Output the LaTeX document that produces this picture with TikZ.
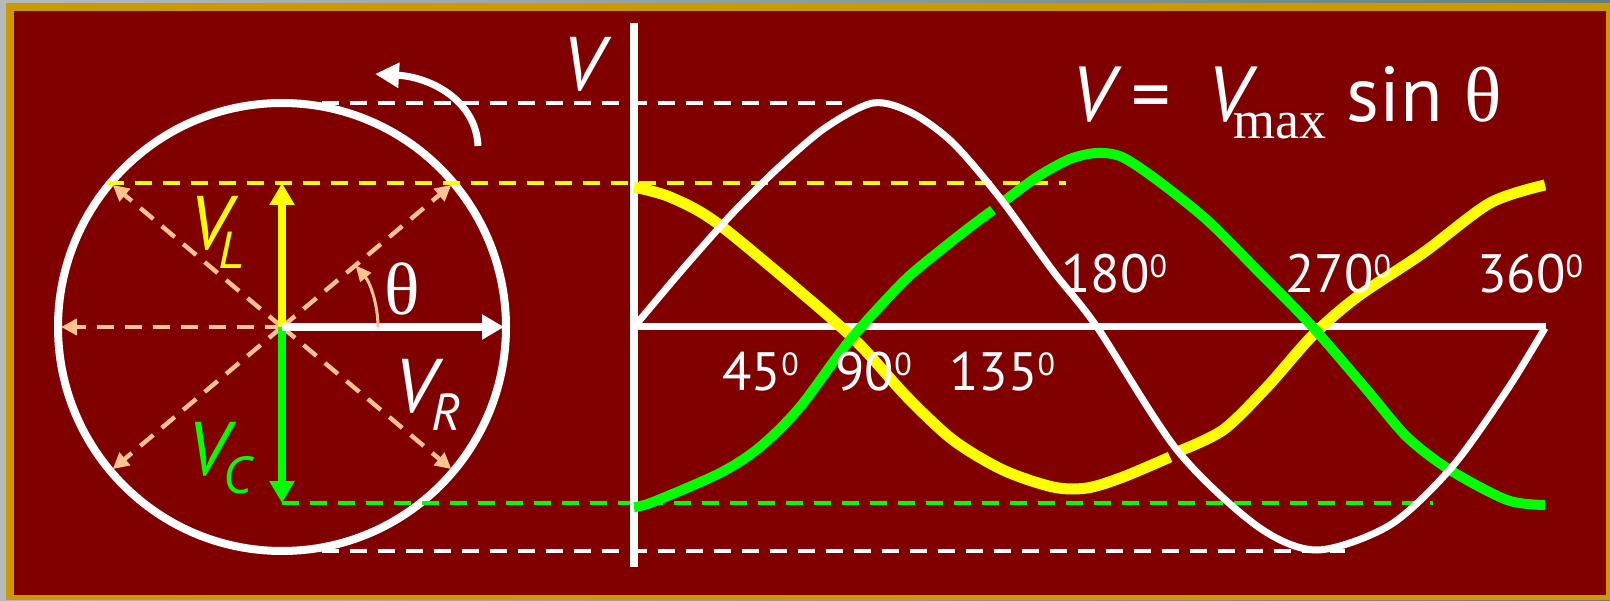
\documentclass[tikz,border=0pt]{standalone}
\usepackage{fontspec}
\setmainfont{PT Sans}
\newfontfamily\serifgr{Liberation Serif}
\usepackage{tikz}
\usetikzlibrary{arrows.meta,calc}
\definecolor{granate}{HTML}{800000}
\definecolor{oro}{HTML}{CC9900}
\definecolor{gris}{HTML}{62807E}
\definecolor{grisclaro}{HTML}{B4BABA}
\definecolor{salmon}{HTML}{FFC38F}
\definecolor{amarillo}{HTML}{FFFF00}
\definecolor{verde}{HTML}{00FF00}
\newcommand\grado[1]{#1\raisebox{7.5pt}{\fontsize{16}{16}\selectfont 0}}
\newcommand\subi[1]{\raisebox{-9pt}{\fontsize{26}{26}\selectfont #1}}
\tikzset{
  guia/.style={dash pattern=on 8.5pt off 5.5pt,line width=2.2pt},
  fasor/.style={line width=4pt,-{Triangle[length=11pt,width=12pt]}},
  radio/.style={salmon,guia,-{Triangle[length=8pt,width=8pt]}},
  onda/.style={line cap=butt,line join=round},
  txt/.style={inner sep=0pt,anchor=base west,text=white},
  grande/.style={txt,font=\fontsize{38}{38}\selectfont\itshape},
  gradtxt/.style={txt,font=\fontsize{27}{27}\selectfont}
}

\begin{document}
\begin{tikzpicture}[x=0.5pt,y=0.5pt]
\useasboundingbox (0,0) rectangle (1610,600);
% marco
\shade[left color=grisclaro,right color=gris] (0,0) rectangle (1610,600);
\fill[oro] (6,0) rectangle (1610,597);
\fill[granate] (14,5) rectangle (1606,589);

% circulo
\coordinate (O) at (282,273);
\draw[white,line width=4pt] (O) circle[radius=224];

% lineas guia
\draw[amarillo,guia] (107,417) -- (1066,417);
\draw[verde,guia] (282,97) -- (1433,97);
\draw[white,guia] (322,497) -- (842,497);
\draw[white,guia] (322,49) -- (1345,49);

% radios
\foreach \ang in {40,140,180,220,320}
  \draw[radio] (O) -- ++(\ang:221);

% fasores
\coordinate (VL) at (282,417);
\coordinate (VC) at (282,97);
\coordinate (VR) at (504,273);
\draw[fasor,amarillo] (O) -- (VL);
\draw[fasor,verde] (O) -- (VC);
\draw[fasor,white] (O) -- (VR);
\draw[salmon,line width=1.5pt,-{Triangle[length=8pt,width=7pt]}] ($(O)+(96,0)$) arc[start angle=0,end angle=40,radius=96];

% giro
\coordinate (g0) at (478,454);
\coordinate (g1) at (375,526);
\draw[white,line width=3.5pt,-{Triangle[length=12pt,width=12pt]}] (g0) .. controls (476,500) and (430,523) .. (g1);

% ejes
\draw[white,line width=3.8pt] (634,577) -- (634,33);
\draw[white,line width=3.5pt] (634,273) -- (1546,273);

% ondas
\draw[onda,amarillo,line width=5.5pt] plot[smooth] coordinates {(634,413) (670,403) (717,377) (810,300) (860,255) (907,203) (953,160) (1003,130) (1053,113) (1087,112) (1123,123) (1170,143)};
\draw[onda,amarillo,line width=5.5pt] plot[smooth] coordinates {(1177,148) (1223,170) (1267,213) (1313,265) (1357,303) (1423,347) (1490,397) (1545,415)};
\draw[onda,verde,line width=5pt] plot[smooth] coordinates {(634,93) (653,98) (720,127) (760,153) (800,193) (850,260) (903,318) (937,347) (970,373) (993,390)};
\draw[onda,verde,line width=5pt] plot[smooth] coordinates {(1003,398) (1037,423) (1070,441) (1097,447) (1122,443) (1157,420) (1207,380) (1257,330) (1310,276) (1367,210) (1407,163) (1450,130) (1507,100) (1545,95)};
\draw[onda,white,line width=3.5pt] plot[smooth] coordinates {(634,273) (682,330) (730,384) (777,431) (825,472) (873,497) (912,487) (953,457) (1000,402) (1053,329) (1097,273) (1177,150) (1257,74) (1317,50) (1390,75) (1452,133) (1507,210) (1545,272)};

% textos
\node[grande,text=amarillo] (vl) at (189,350) {V\kern-6pt\subi{L}};
\node[grande,text=verde] (vc) at (187,125) {V\kern-2.5pt\subi{C}};
\node[grande] (vr) at (394,188) {V\kern-2pt\subi{R}};
\node[txt,font=\fontsize{37}{37}\selectfont\serifgr] (th) at (384,285) {θ};
\node[grande] (ejev) at (562,509) {V};
\node[txt,font=\fontsize{39}{39}\selectfont] (form) at (1071,478)
  {\itshape V\upshape\kern9pt= \kern8pt\itshape V\upshape\kern-8.5pt\raisebox{-8.5pt}{\serifgr\fontsize{27}{27}\selectfont max} sin {\serifgr θ}};
\node[gradtxt] (g45) at (722,210) {\grado{45}};
\node[gradtxt] (g90) at (835,210) {\grado{90}};
\node[gradtxt] (g135) at (949,210) {\grado{135}};
\node[gradtxt] (g180) at (1061,307) {\grado{180}};
\node[gradtxt] (g270) at (1285,307) {\grado{270}};
\node[gradtxt] (g360) at (1477,307) {\grado{360}};
\end{tikzpicture}
\end{document}
